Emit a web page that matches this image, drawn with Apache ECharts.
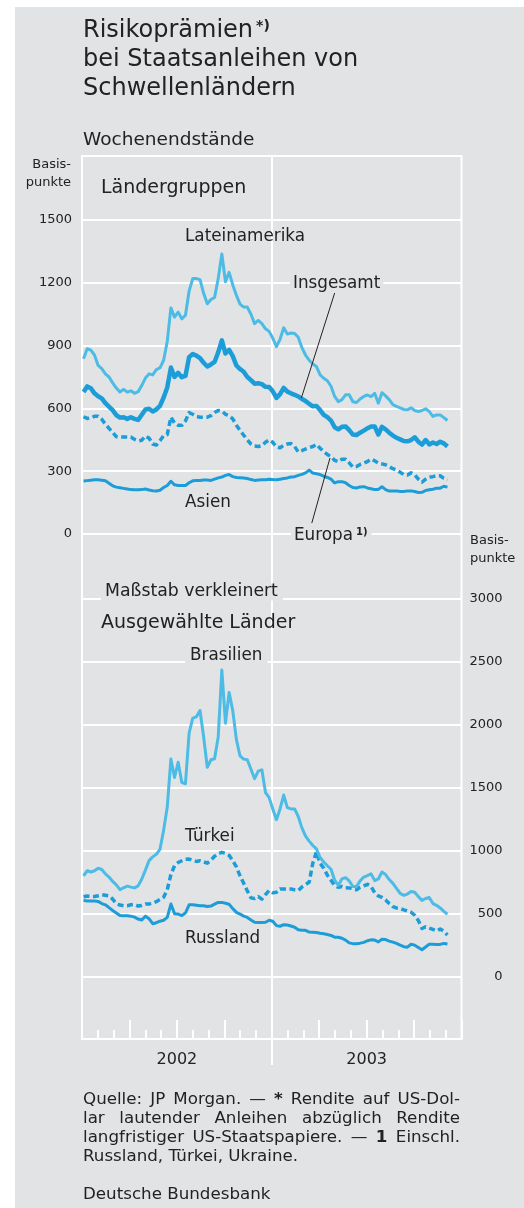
<!DOCTYPE html>
<html><head><meta charset="utf-8">
<script src="https://cdn.jsdelivr.net/npm/echarts@6/dist/echarts.min.js"></script>
<style>
html,body{margin:0;padding:0;background:#fff;}
#panel{position:absolute;left:15px;top:7px;right:0;bottom:0;background:#e2e3e5;}
#chart{position:absolute;left:0;top:0;width:524px;height:1208px;}
</style></head><body>
<div id="panel"></div><div id="chart"></div>
<script>
// ---------- data (weekly values, first week ending 2002-01-04) ----------
const firstWeek = [2002, 0, 4];
const years = ['2002', '2003'];
const topTicks = { min: 0, max: 1500, interval: 300 };
const bottomTicks = { min: 0, max: 3000, interval: 500 };

const lateinamerika = [837,885,878,855,805,790,765,750,722,697,
678,691,678,684,672,680,710,745,765,760,
785,794,830,920,1080,1036,1060,1028,1045,1160,
1220,1220,1215,1150,1100,1120,1130,1220,1338,1205,
1250,1190,1140,1098,1084,1084,1050,1005,1020,1005,
980,968,935,895,930,985,955,960,958,940,
890,855,830,812,800,760,744,732,706,657,
632,642,665,665,632,628,645,657,664,656,
672,625,675,660,642,618,610,603,595,593,
603,590,585,590,598,585,562,569,569,556,
542];
const insgesamt = [678,705,696,672,658,648,625,608,592,568,
556,558,550,558,550,545,570,595,598,585,
595,612,652,700,795,750,770,749,755,845,
860,852,840,818,800,810,822,868,925,862,
880,850,805,788,775,750,735,718,720,716,
703,702,682,650,668,698,680,672,665,657,
645,635,622,610,612,592,569,558,542,510,
500,512,514,496,475,473,484,494,505,513,
514,475,512,500,484,470,460,452,444,443,
449,462,441,427,449,428,437,430,441,433,
418];
const europa = [560,552,555,562,562,548,525,505,485,465,
463,463,463,463,452,445,448,468,458,430,
425,445,470,475,558,530,519,519,540,580,
572,562,558,558,558,565,580,590,588,572,
565,550,520,495,472,450,430,420,418,422,
438,450,438,416,412,424,430,432,418,392,
398,406,412,418,428,410,393,380,370,352,
345,357,357,340,320,322,332,338,346,358,
350,338,335,331,322,312,306,295,284,282,
292,283,262,247,262,272,274,278,278,266,
258];
const asien = [253,255,257,259,259,257,254,242,230,224,
221,218,215,212,211,211,212,215,210,207,
205,209,222,232,252,235,232,232,232,245,
254,256,256,258,258,256,262,268,272,280,
284,274,270,269,268,265,260,256,258,259,
259,262,260,259,262,265,268,272,274,280,
285,292,305,291,288,284,276,270,262,244,
250,250,245,232,222,220,225,226,220,216,
212,213,226,212,205,206,206,203,203,206,
206,203,198,199,208,211,214,219,219,228,
224];
const brasilien = [800,840,830,840,860,850,815,790,755,728,
690,705,718,710,704,720,775,845,920,950,
970,1010,1160,1345,1726,1580,1700,1540,1530,1930,
2050,2060,2110,1900,1660,1720,1728,1900,2431,2010,
2254,2109,1880,1750,1725,1720,1645,1570,1630,1640,
1460,1420,1330,1245,1330,1440,1340,1330,1330,1270,
1180,1115,1075,1040,1013,945,910,880,852,765,
725,775,785,760,715,715,760,790,802,815,
762,775,830,810,770,740,700,660,645,655,
675,670,635,605,620,628,580,566,545,518,
495];
const tuerkei = [634,640,638,636,642,650,645,640,615,580,
568,563,563,570,573,560,565,576,576,585,
595,612,630,690,810,880,905,919,932,933,
922,914,919,910,900,925,955,975,986,978,
962,920,870,800,740,680,625,620,635,615,
650,683,665,670,696,696,696,696,688,683,
712,730,750,900,990,900,860,805,765,722,
709,715,705,704,695,690,709,720,732,715,
665,640,628,608,580,556,545,540,530,522,
511,487,445,382,395,385,375,362,378,360,
330];
const russland = [605,600,600,600,597,580,570,548,525,505,
485,483,483,480,472,457,449,480,460,420,
428,440,448,470,576,500,497,485,505,570,
571,567,563,563,556,560,575,589,589,582,
575,540,510,497,480,470,450,432,430,430,
432,448,440,405,400,412,410,402,392,372,
368,368,354,352,350,344,340,335,327,313,
313,305,290,268,262,262,266,272,285,292,
290,276,297,294,282,274,264,250,238,234,
257,250,232,214,236,258,257,255,256,264,
260];

// leader lines (date, value) for the label annotations
const leaderInsgesamt = [['2003-05-02', 1151], ['2003-02-27', 650]];
const leaderEuropa = [['2003-03-19', 52], ['2003-04-23', 363]];

const footnote = [
  'Quelle: JP Morgan. — {*} Rendite auf US-Dol-',
  'lar lautender Anleihen abzüglich Rendite',
  'langfristiger US-Staatspapiere. — {1} Einschl.',
  'Russland, Türkei, Ukraine.'
];
const source = 'Deutsche Bundesbank';

// ---------- build ----------
const FONT = '"DejaVu Sans"';
const INK = '#222';
const BG = '#e2e3e5';
const LIGHT = '#4cbbe5';
const DARK = '#1c9dd8';

const dates = lateinamerika.map((_, i) => new Date(firstWeek[0], firstWeek[1], firstWeek[2] + 7 * i).getTime());
const pairs = arr => arr.map((v, i) => [dates[i], v]);
const tmin = new Date(2002, 0, 1).getTime();
const tmax = new Date(2004, 0, 1).getTime();
const ts = s => { const p = s.split('-').map(Number); return new Date(p[0], p[1] - 1, p[2]).getTime(); };
const leader = pts => ({
  silent: true, animation: false, symbol: ['none', 'none'],
  label: { show: false }, emphasis: { disabled: true },
  lineStyle: { color: INK, width: 1, type: 'solid' },
  data: [[{ coord: [ts(pts[0][0]), pts[0][1]] }, { coord: [ts(pts[1][0]), pts[1][1]] }]]
});

function line(name, arr, g, color, width, dashed, extra) {
  return Object.assign({
    name, type: 'line', xAxisIndex: g === 1 ? 3 : 4, yAxisIndex: g,
    data: pairs(arr), showSymbol: false, symbol: 'none', animation: false,
    lineStyle: { color, width, type: dashed ? [6, 3.5] : 'solid', cap: 'butt', join: 'round' },
    emphasis: { disabled: true }, z: 3
  }, extra || {});
}

function T(text, x, y, size, o) {
  o = o || {};
  const st = {
    text, font: `${o.weight || 'normal'} ${size}px ${FONT}`, fill: INK,
    align: o.align || 'left', verticalAlign: 'middle'
  };
  if (o.bg) { st.backgroundColor = BG; st.padding = o.pad || [0, 4]; }
  if (o.rich) st.rich = o.rich;
  return { type: 'text', x, y, z: 100, silent: true, style: st };
}

const ctx = document.createElement('canvas').getContext('2d');
function measure(str, font) { ctx.font = font; return ctx.measureText(str).width; }

function footLine(str, y, justify, x0, x1, size) {
  const words = str.split(' ').map(w => {
    const b = /^\{.*\}$/.test(w);
    return { t: b ? w.slice(1, -1) : w, font: `${b ? 'bold' : 'normal'} ${size}px ${FONT}` };
  });
  words.forEach(w => w.w = measure(w.t, w.font));
  const total = words.reduce((s, w) => s + w.w, 0);
  const gap = justify ? (x1 - x0 - total) / (words.length - 1) : measure(' ', `normal ${size}px ${FONT}`);
  let x = x0;
  return words.map(w => {
    const el = { type: 'text', x, y, z: 100, silent: true, style: { text: w.t, font: w.font, fill: INK, align: 'left', verticalAlign: 'middle' } };
    x += w.w + gap;
    return el;
  });
}

const graphics = [
  T('Risikoprämien{s|*)}', 83, 31, 24, { rich: { s: { font: `bold 14px ${FONT}`, verticalAlign: 'top', fill: INK, padding: [0, 0, 0, 3] } } }),
  T('bei Staatsanleihen von', 83, 60, 24),
  T('Schwellenländern', 83, 89, 24),
  T('Wochenendstände', 83, 140, 18.5),
  T('Basis-', 71, 165, 13, { align: 'right' }),
  T('punkte', 71, 183, 13, { align: 'right' }),
  T('Ländergruppen', 101, 188, 19),
  T('Lateinamerika', 185, 237, 16.8),
  T('Insgesamt', 290, 284, 16.8, { bg: true, pad: [0, 3] }),
  T('Asien', 185, 503, 16.8),
  T('Europa{s|1)}', 291, 536, 16.8, { bg: true, pad: [0, 4, 0, 3], rich: { s: { font: `bold 10px ${FONT}`, verticalAlign: 'top', fill: INK, padding: [0, 0, 0, 3] } } }),
  T('Basis-', 470, 541, 13),
  T('punkte', 470, 559, 13),
  T('Maßstab verkleinert', 101, 592, 17.3, { bg: true, pad: [0, 5, 0, 4] }),
  T('Ausgewählte Länder', 101, 623, 19),
  T('Brasilien', 185, 656, 16.8, { bg: true, pad: [0, 5] }),
  T('Türkei', 185, 837, 16.8),
  T('Russland', 185, 939, 16.8),
];
footnote.forEach((s, i) => graphics.push(...footLine(s, 1100 + i * 19, i < 3, 83, 460, 16.7)));
graphics.push(T(source, 83, 1195, 16.7));

const axisLbl = { color: INK, fontFamily: FONT, fontSize: 13, formatter: v => String(v) };
const white = { color: '#fff', width: 2 };
const GL = 82, GW = 379.5;

const option = {
  backgroundColor: 'transparent',
  animation: false,
  grid: [
    { left: GL, top: 156, width: GW, height: 883, show: true, borderColor: '#fff', borderWidth: 2, backgroundColor: 'transparent', containLabel: false },
    { left: GL, top: 220, width: GW, height: 314, containLabel: false },
    { left: GL, top: 598.3, width: GW, height: 378.4, containLabel: false }
  ],
  xAxis: [
    { gridIndex: 0, type: 'value', min: 0, max: 24, interval: 1, position: 'bottom',
      axisLine: { show: false }, axisTick: { show: true, inside: true, length: 9, lineStyle: white },
      axisLabel: { show: false }, splitLine: { show: false } },
    { gridIndex: 0, type: 'value', min: 0, max: 24, interval: 3, position: 'bottom',
      axisLine: { show: false }, axisTick: { show: true, inside: true, length: 19, lineStyle: white },
      axisLabel: { show: false }, splitLine: { show: false } },
    { gridIndex: 0, type: 'value', min: 0, max: 24, interval: 12, position: 'bottom',
      axisLine: { show: false },
      axisTick: { show: true, inside: false, length: 26, lineStyle: white, customValues: [12] },
      axisLabel: { show: true, customValues: years.map((y, i) => i * 12 + 6), formatter: v => years[Math.floor(v / 12)],
        color: INK, fontFamily: FONT, fontSize: 16, margin: 13 },
      splitLine: { show: true, lineStyle: white } },
    { gridIndex: 1, type: 'time', min: tmin, max: tmax, show: false },
    { gridIndex: 2, type: 'time', min: tmin, max: tmax, show: false }
  ],
  yAxis: [
    { gridIndex: 0, type: 'value', min: 0, max: 1, show: false },
    { gridIndex: 1, type: 'value', min: topTicks.min, max: topTicks.max, interval: topTicks.interval, position: 'left',
      axisLine: { show: false }, axisTick: { show: false },
      axisLabel: Object.assign({ margin: 10 }, axisLbl),
      splitLine: { show: true, lineStyle: white } },
    { gridIndex: 2, type: 'value', min: bottomTicks.min, max: bottomTicks.max, interval: bottomTicks.interval, position: 'right',
      axisLine: { show: false }, axisTick: { show: false },
      axisLabel: Object.assign({ margin: 41, align: 'right' }, axisLbl),
      splitLine: { show: true, lineStyle: white } }
  ],
  series: [
    line('Asien', asien, 1, DARK, 3, false),
    line('Europa', europa, 1, DARK, 3.5, true, { markLine: leader(leaderEuropa) }),
    line('Lateinamerika', lateinamerika, 1, LIGHT, 3, false),
    line('Insgesamt', insgesamt, 1, DARK, 4.5, false, { markLine: leader(leaderInsgesamt) }),
    line('Russland', russland, 2, DARK, 3, false),
    line('Türkei', tuerkei, 2, DARK, 3.5, true),
    line('Brasilien', brasilien, 2, LIGHT, 3, false)
  ],
  graphic: { elements: graphics }
};

const chart = echarts.init(document.getElementById('chart'), null, { renderer: 'canvas' });
chart.setOption(option);
</script>
</body></html>
